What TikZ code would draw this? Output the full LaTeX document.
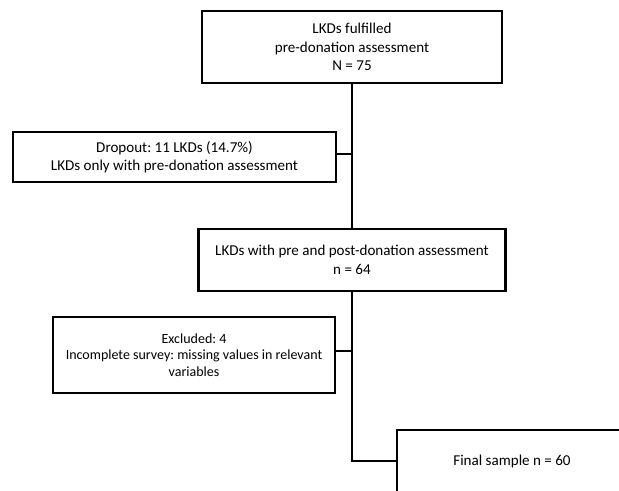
\documentclass[tikz,border=0pt]{standalone}
\usepackage{fontspec}
\setmainfont{Carlito}
\begin{document}
\frenchspacing
\begin{tikzpicture}[x=0.75pt,y=-0.75pt,
  box/.style={draw=black,line width=2.2pt,rectangle,align=center,inner sep=0pt,
    font=\fontsize{11.3}{13.9}\selectfont},
  conn/.style={draw=black,line width=2.2pt}]
\useasboundingbox (0,0) rectangle (619,491);
\clip (0,0) rectangle (619,491);
\node[box,minimum width=225pt,minimum height=54pt] (b1) at (352,47)
  {LKDs fulfilled\\pre-donation assessment\\N = 75};
\node[box,minimum width=242.25pt,minimum height=37.5pt] (drop) at (174.5,157)
  {Dropout: 11 LKDs (14.7\%)\\LKDs only with pre-donation assessment};
\node[box,minimum width=230.25pt,minimum height=46.5pt] (b3) at (352,260)
  {LKDs with pre and post-donation assessment\\n = 64};
\node[box,minimum width=211.5pt,minimum height=57pt,font=\fontsize{10.5}{12.4}\selectfont] (excl) at (194,355)
  {Excluded: 4\\Incomplete survey: missing values in relevant\\variables};
\node[box,minimum width=172.5pt,minimum height=46.5pt] (fin) at (512,461)
  {Final sample n = 60};
\coordinate (dj) at ([yshift=2.25pt]drop.east);
\coordinate (ej) at ([yshift=3pt]excl.east);
\draw[conn] (b1.south) -- (b3.north);
\draw[conn] (dj) -- (dj -| b1.south);
\draw[conn] (ej) -- (ej -| b3.south);
\draw[conn] (b3.south) |- (fin.west);
\end{tikzpicture}
\end{document}
